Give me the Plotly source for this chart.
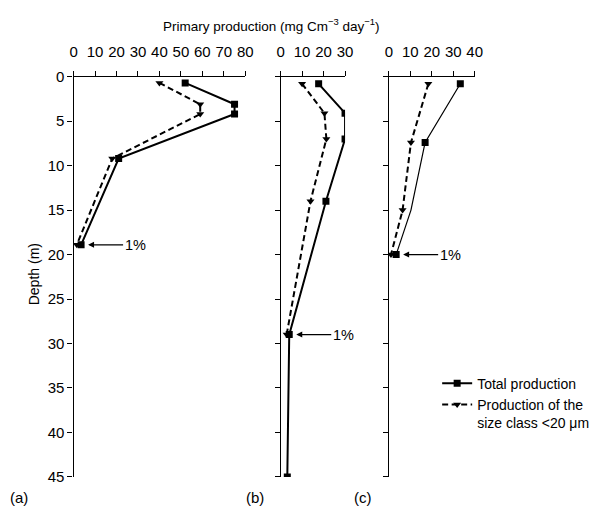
import plotly.graph_objects as go

# ---------------- data ----------------
# Panel (a)
depth_a = [0.7, 3.1, 4.2, 9.2, 18.9]
total_a = [52, 75, 75, 21, 3.5]
small_a = [40, 59, 59, 18, 1.5]

# Panel (b)
depth_b_total = [0.8, 4.1, 7.0, 14.0, 29.0, 45.0]
total_b = [17.7, 30, 30, 21.1, 4.0, 3.1]
depth_b_small = [0.8, 4.1, 7.0, 14.0, 29.0]
small_b = [10, 20.4, 21.3, 13.9, 2.8]

# Panel (c)
depth_c = [0.8, 7.4, 15.0, 20.0]
total_c = [33.3, 16.9, 10.3, 3.4]
total_c_has_marker = [True, True, False, True]  # no marker drawn at 15 m
small_c = [18.4, 10.3, 6.4, 1.0]

x_ticks_a = [0, 10, 20, 30, 40, 50, 60, 70, 80]
x_ticks_b = [0, 10, 20, 30]
x_ticks_c = [0, 10, 20, 30, 40]
y_ticks = [0, 5, 10, 15, 20, 25, 30, 35, 40, 45]

# 1% light level points (panel, x, depth)
one_pct = [("a", 3.5, 18.9), ("b", 4.0, 29.0), ("c", 3.4, 20.0)]

# ---------------- layout helpers ----------------
W, H = 600, 512
FONT = "Liberation Sans, Arial, Helvetica, sans-serif"


def px(x):
    return x / W


def py(y):
    return 1 - y / H


PXU = 2.19  # pixels per production unit (same for all panels)
y_dom = [py(484), py(70)]
dom_a = [px(71), px(71 + 80 * PXU)]
dom_b = [px(282.3), px(282.3 + 30 * PXU)]
dom_c = [px(392.7), px(392.7 + 40 * PXU)]

fig = go.Figure()

SQ = dict(symbol="square", size=7, color="black", opacity=1, line=dict(width=0))
TR = dict(symbol="triangle-down", size=7, color="black", opacity=1, line=dict(width=0))
LW = 2.0
DASH = "6px,3.5px"

# panel a
fig.add_trace(go.Scatter(x=total_a, y=depth_a, mode="lines+markers", xaxis="x", yaxis="y",
                         line=dict(color="black", width=LW), marker=SQ,
                         name="Total production", showlegend=True))
fig.add_trace(go.Scatter(x=small_a, y=depth_a, mode="lines+markers", xaxis="x", yaxis="y",
                         line=dict(color="black", width=LW, dash=DASH), marker=TR,
                         name="Production of the<br>size class &lt;20 μm", showlegend=True))
# panel b
fig.add_trace(go.Scatter(x=total_b, y=depth_b_total, mode="lines+markers", xaxis="x2", yaxis="y2",
                         line=dict(color="black", width=LW), marker=SQ, showlegend=False))
fig.add_trace(go.Scatter(x=small_b, y=depth_b_small, mode="lines+markers", xaxis="x2", yaxis="y2",
                         line=dict(color="black", width=LW, dash=DASH), marker=TR,
                         showlegend=False))
# panel c
fig.add_trace(go.Scatter(x=total_c, y=depth_c, mode="lines", xaxis="x3", yaxis="y3",
                         line=dict(color="black", width=1.2), showlegend=False))
fig.add_trace(go.Scatter(x=[v for v, m in zip(total_c, total_c_has_marker) if m],
                         y=[d for d, m in zip(depth_c, total_c_has_marker) if m],
                         mode="markers", xaxis="x3", yaxis="y3", marker=SQ, showlegend=False))
fig.add_trace(go.Scatter(x=small_c, y=depth_c, mode="lines+markers", xaxis="x3", yaxis="y3",
                         line=dict(color="black", width=LW, dash=DASH), marker=TR,
                         showlegend=False))

axis_common = dict(showline=True, linecolor="black", linewidth=1.3, ticks="outside",
                   ticklen=5, tickwidth=1.3, tickcolor="black", showgrid=False,
                   zeroline=False, tickfont=dict(family=FONT, size=15, color="black"))

x_common = dict(axis_common, side="top", ticklabelstandoff=8)
y_common = dict(axis_common, range=[45, 0], tickmode="array", tickvals=y_ticks, domain=y_dom)

fig.update_layout(
    width=W, height=H,
    margin=dict(l=0, r=0, t=0, b=0),
    paper_bgcolor="white", plot_bgcolor="white",
    font=dict(family=FONT, size=14, color="black"),
    xaxis=dict(x_common, domain=dom_a, range=[0, 80], tickvals=x_ticks_a, anchor="y"),
    xaxis2=dict(x_common, domain=dom_b, range=[0, 30], tickvals=x_ticks_b, anchor="y2"),
    xaxis3=dict(x_common, domain=dom_c, range=[0, 40], tickvals=x_ticks_c, anchor="y3"),
    yaxis=dict(y_common, anchor="x"),
    yaxis2=dict(y_common, anchor="x2", showticklabels=False),
    yaxis3=dict(y_common, anchor="x3", showticklabels=False),
    legend=dict(x=px(442), y=py(371), xanchor="left", yanchor="top",
                bgcolor="rgba(0,0,0,0)", font=dict(family=FONT, size=14, color="black"),
                tracegroupgap=0, valign="top", itemwidth=30),
)

ann = []
ann.append(dict(text="Primary production (mg Cm<sup>−3</sup> day<sup>−1</sup>)", xref="paper",
                yref="paper", x=px(273), y=py(17), xanchor="center", yanchor="middle",
                showarrow=False, font=dict(family=FONT, size=13.5)))
ann.append(dict(text="Depth (m)", xref="paper", yref="paper", x=px(31), y=py(274),
                xanchor="center", yanchor="middle", textangle=-90, showarrow=False,
                font=dict(family=FONT, size=14)))
for lab, xx in (("(a)", 4), ("(b)", 245), ("(c)", 355)):
    ann.append(dict(text=lab, xref="paper", yref="paper", x=px(xx), y=py(505),
                    xanchor="left", yanchor="middle", showarrow=False,
                    font=dict(family=FONT, size=15)))
axmap = {"a": ("x", "y"), "b": ("x2", "y2"), "c": ("x3", "y3")}
for p, xv, dv in one_pct:
    xr, yr = axmap[p]
    ann.append(dict(text="1%", xref=xr, yref=yr, x=xv, y=dv, ax=54, ay=0,
                    showarrow=True, arrowhead=2, arrowsize=1, arrowwidth=1.2,
                    arrowcolor="black", standoff=7, font=dict(family=FONT, size=14.5)))
fig.update_layout(annotations=ann)

fig.write_html("out.html")
